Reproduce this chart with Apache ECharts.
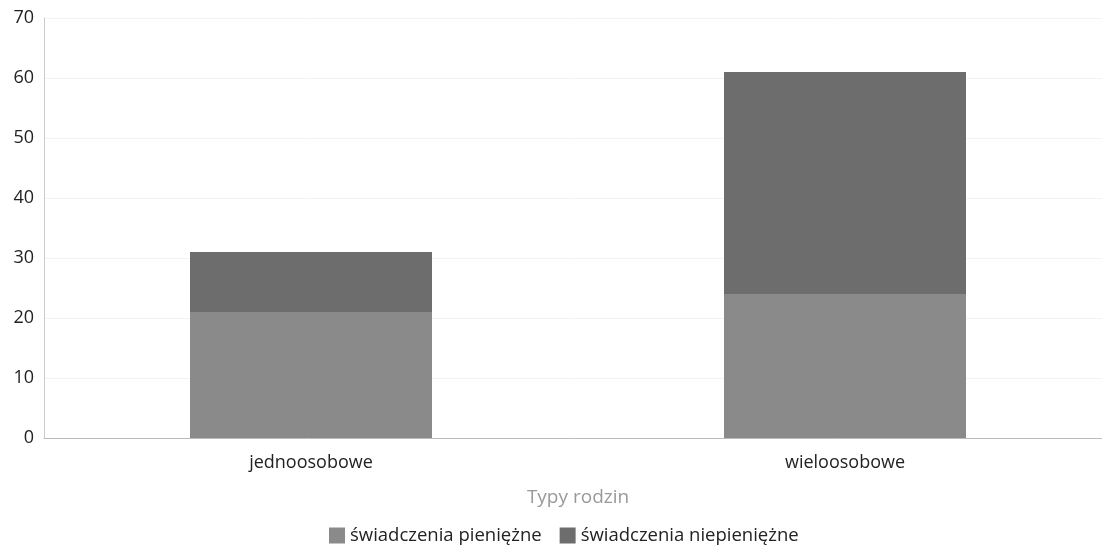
<!DOCTYPE html>
<html>
<head>
<meta charset="utf-8">
<style>
    html, body {margin:0;padding:0;background:#fff;}
    #chart {width:1102px;height:553px;}
</style>
</head>
<body>
<div id="chart"></div>
<script src="https://cdn.jsdelivr.net/npm/echarts@6/dist/echarts.min.js"></script>
<script>
var categories = ['jednoosobowe', 'wieloosobowe'];
var pieniezne = [21, 24];
var niepieniezne = [10, 37];
var seriesNames = ['świadczenia pieniężne', 'świadczenia niepieniężne'];

var chart = echarts.init(document.getElementById('chart'));
chart.setOption({
    animation: false,
    textStyle: {fontFamily: 'Open Sans'},
    grid: {left: 44, right: -10, top: 18, bottom: 115, outerBoundsMode: 'none'},
    legend: {
        left: 324,
        bottom: 3,
        itemWidth: 16,
        itemHeight: 16,
        itemGap: 18,
        icon: 'rect',
        textStyle: {color: '#222', fontSize: 18.5},
        data: seriesNames
    },
    xAxis: {
        type: 'category',
        data: categories,
        name: 'Typy rodzin',
        nameLocation: 'middle',
        nameGap: 50,
        nameTextStyle: {color: '#999', fontSize: 19},
        axisTick: {show: false},
        axisLine: {lineStyle: {color: '#bbb'}},
        axisLabel: {color: '#222', fontSize: 18, margin: 16}
    },
    yAxis: {
        type: 'value',
        min: 0,
        max: 70,
        interval: 10,
        axisLine: {show: true, lineStyle: {color: '#ccc'}},
        axisLabel: {color: '#222', fontSize: 18, margin: 10},
        splitLine: {lineStyle: {color: '#f3f3f3'}}
    },
    series: [{
        name: seriesNames[0],
        type: 'bar',
        stack: 'total',
        barWidth: 242,
        itemStyle: {color: '#8a8a8a'},
        data: pieniezne
    }, {
        name: seriesNames[1],
        type: 'bar',
        stack: 'total',
        barWidth: 242,
        itemStyle: {color: '#6d6d6d'},
        data: niepieniezne
    }]
});
</script>
</body>
</html>
